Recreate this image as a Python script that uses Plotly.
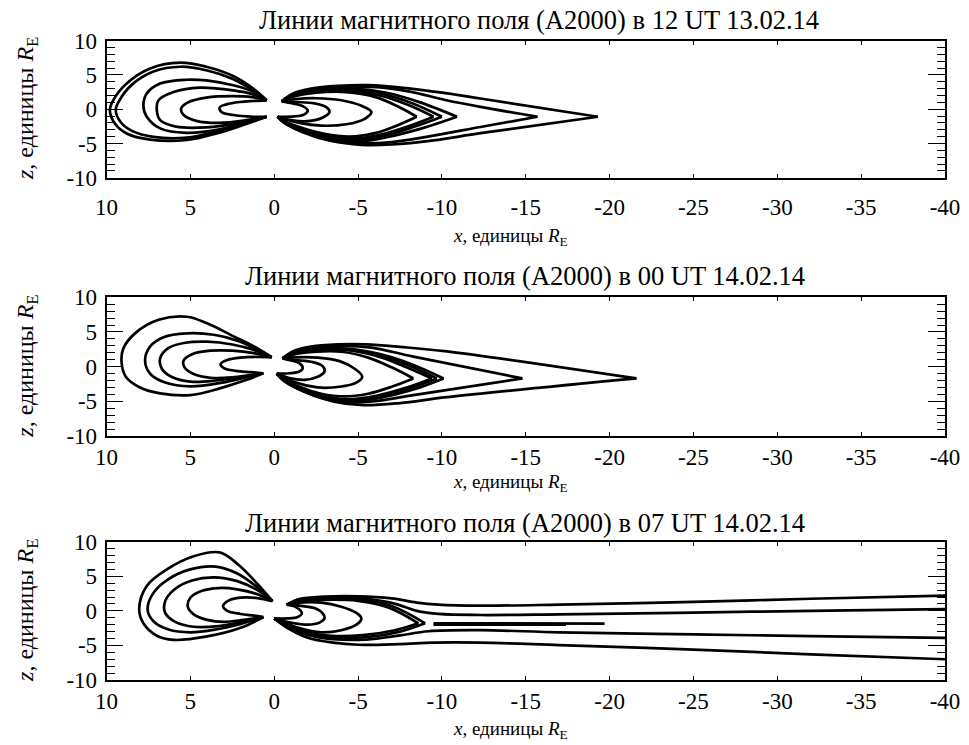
import plotly.graph_objects as go

# ---------------- DATA ----------------
X_TICKS = [10, 5, 0, -5, -10, -15, -20, -25, -30, -35, -40]
X_TICK_TEXT = ["10", "5", "0", "-5", "-10", "-15", "-20", "-25", "-30", "-35", "-40"]
Y_TICKS = [-10, -5, 0, 5, 10]
Y_TICK_TEXT = ["-10", "-5", "0", "5", "10"]

TITLES = [
    "Линии магнитного поля (A2000) в 12 UT 13.02.14",
    "Линии магнитного поля (A2000) в 00 UT 14.02.14",
    "Линии магнитного поля (A2000) в 07 UT 14.02.14",
]
X_LABEL = "<i>x</i>, единицы <i>R</i><sub>E</sub>"
Y_LABEL = "<i>z</i>, единицы <i>R</i><sub>E</sub>"

# Panel 1 (12 UT 13.02.14)
P1_DAY_X = [
    [0.45, 1.25, 2.45, 4.05, 5.6, 7.4, 8.8, 9.6, 9.8, 9.5, 8.8, 7.4, 5.2, 3.45, 1.85, 0.45],
    [0.45, 1.3, 2.5, 4.0, 5.6, 7.2, 8.5, 9.25, 9.45, 9.15, 8.45, 7.2, 5.2, 3.5, 1.9, 0.45],
    [0.45, 1.3, 2.45, 4.05, 5.25, 6.8, 7.6, 7.8, 7.6, 6.8, 5.25, 3.25, 1.65, 0.45],
    [0.45, 1.3, 2.45, 4.45, 6.0, 6.9, 7.0, 6.8, 5.85, 4.05, 2.05, 0.45],
    [0.45, 1.3, 2.45, 4.05, 5.1, 5.55, 5.4, 4.65, 3.25, 1.65, 0.45],
    [0.45, 1.25, 2.05, 2.85, 3.25, 3.15, 2.45, 1.25, 0.45],
]
P1_DAY_Z = [
    [1.3, 3.0, 4.85, 6.2, 6.8, 5.95, 3.75, 1.3, -0.15, -2.1, -3.55, -4.45, -4.5, -3.55, -2.3, -1.1],
    [1.3, 2.8, 4.45, 5.65, 6.2, 5.5, 3.55, 1.2, -0.15, -1.9, -3.2, -4.05, -4.15, -3.3, -2.15, -1.1],
    [1.3, 2.6, 3.5, 4.2, 4.3, 3.75, 2.3, 0.55, -1.1, -2.8, -3.45, -2.95, -1.85, -1.1],
    [1.3, 2.2, 2.75, 3.15, 2.5, 1.3, -0.15, -1.6, -2.55, -2.65, -2.0, -1.1],
    [1.3, 1.75, 1.9, 1.7, 1.05, 0.1, -0.85, -1.7, -2.0, -1.6, -1.1],
    [1.3, 1.2, 1.05, 0.7, 0.25, -0.4, -0.85, -1.1, -1.1],
]
P1_NIGHT_X = [
    [-0.45, -1.1, -1.7, -2.0, -1.8, -1.2, -0.2],
    [-0.45, -1.3, -2.4, -3.1, -3.3, -2.9, -2.0, -1.0, -0.2],
    [-0.45, -1.2, -2.5, -4.0, -5.2, -5.8, -5.4, -4.3, -2.8, -1.5, -0.2],
    [-0.45, -1.2, -2.5, -4.3, -6.0, -7.3, -8.5],
    [-8.5, -7.3, -6.0, -4.5, -3.0, -1.5, -0.6, -0.2],
    [-0.45, -1.2, -2.5, -4.4, -6.3, -8.0, -9.5],
    [-9.5, -8.0, -6.3, -4.7, -3.0, -1.5, -0.6, -0.2],
    [-0.45, -1.2, -2.5, -4.5, -6.5, -8.3, -10.0],
    [-10.0, -8.3, -6.5, -4.8, -3.0, -1.5, -0.6, -0.2],
    [-0.45, -1.2, -2.5, -4.6, -6.7, -8.7, -10.9],
    [-10.9, -8.8, -6.7, -5.0, -3.1, -1.5, -0.6, -0.2],
    [-0.45, -1.1, -2.3, -4.0, -5.8, -8.0, -10.2, -12.3, -15.7],
    [-15.7, -12.3, -9.5, -7.0, -5.0, -3.2, -1.6, -0.6, -0.2],
    [-0.45, -1.1, -2.2, -3.8, -5.6, -8.0, -10.2, -12.3, -19.3],
    [-19.3, -12.3, -9.5, -7.0, -5.2, -3.4, -1.7, -0.6, -0.2],
]
P1_NIGHT_Z = [
    [1.15, 0.85, 0.45, -0.2, -0.75, -1.05, -1.1],
    [1.15, 1.05, 0.85, 0.3, -0.4, -1.2, -1.75, -1.6, -1.1],
    [1.15, 1.45, 1.6, 1.3, 0.5, -0.4, -1.4, -2.2, -2.4, -2.0, -1.1],
    [1.15, 1.85, 2.4, 2.5, 1.8, 0.5, -1.1],
    [-1.1, -2.4, -3.5, -4.0, -3.6, -2.6, -1.7, -1.1],
    [1.15, 1.95, 2.55, 2.7, 2.0, 0.6, -1.1],
    [-1.1, -2.5, -3.75, -4.3, -3.9, -2.8, -1.8, -1.1],
    [1.15, 2.0, 2.65, 2.85, 2.2, 0.8, -1.1],
    [-1.1, -2.6, -3.9, -4.5, -4.1, -2.95, -1.85, -1.1],
    [1.15, 2.1, 2.75, 3.0, 2.4, 1.0, -1.1],
    [-1.1, -2.8, -4.1, -4.75, -4.3, -3.05, -1.9, -1.1],
    [1.15, 2.15, 2.85, 3.2, 3.25, 2.6, 1.35, 0.35, -1.1],
    [-1.1, -2.6, -3.85, -4.8, -4.95, -4.45, -3.2, -1.95, -1.1],
    [1.15, 2.25, 3.0, 3.4, 3.5, 3.05, 2.35, 1.56, -1.1],
    [-1.1, -3.5, -4.55, -5.15, -5.2, -4.65, -3.35, -2.0, -1.1],
]

# Panel 2 (00 UT 14.02.14)
P2_DAY_X = [
    [0.15, 1.2, 2.45, 4.0, 5.2, 6.9, 8.3, 9.0, 9.1, 8.85, 8.0, 6.8, 5.0, 3.2, 1.65, 0.65],
    [0.15, 1.2, 2.2, 3.6, 5.2, 6.6, 7.4, 7.7, 7.4, 6.5, 5.0, 3.1, 1.7, 0.65],
    [0.15, 1.2, 2.5, 4.0, 5.3, 6.3, 6.8, 6.7, 6.1, 5.0, 3.5, 2.0, 0.65],
    [0.15, 1.2, 2.5, 3.8, 4.9, 5.4, 5.35, 4.8, 3.8, 2.5, 1.5, 0.65],
    [0.15, 1.0, 2.0, 2.8, 3.2, 3.0, 2.3, 1.4, 0.65],
]
P2_DAY_Z = [
    [1.35, 2.9, 4.4, 6.25, 7.2, 6.75, 4.8, 2.6, 0.6, -1.45, -3.0, -3.85, -4.1, -3.1, -1.9, -0.95],
    [1.35, 2.7, 3.75, 4.6, 4.8, 4.25, 2.9, 0.9, -1.0, -2.3, -2.85, -2.3, -1.55, -0.95],
    [1.35, 2.4, 3.2, 3.6, 3.45, 2.7, 1.2, -0.3, -1.5, -2.15, -2.0, -1.5, -0.95],
    [1.35, 1.95, 2.3, 2.3, 1.8, 0.9, -0.1, -1.05, -1.6, -1.55, -1.25, -0.95],
    [1.35, 1.4, 1.3, 0.95, 0.35, -0.2, -0.6, -0.8, -0.95],
]
P2_NIGHT_X = [
    [-0.5, -1.0, -1.5, -1.7, -1.5, -0.9, -0.15],
    [-0.5, -1.3, -2.3, -2.9, -3.0, -2.6, -1.8, -0.9, -0.15],
    [-0.5, -1.3, -2.6, -3.9, -4.8, -5.25, -4.9, -3.9, -2.6, -1.3, -0.15],
    [-0.5, -1.2, -2.5, -4.0, -5.6, -7.0, -8.3],
    [-8.3, -7.0, -5.6, -4.2, -2.8, -1.5, -0.6, -0.15],
    [-0.5, -1.2, -2.5, -4.2, -6.0, -7.7, -9.4],
    [-9.4, -7.8, -6.1, -4.4, -2.9, -1.5, -0.6, -0.15],
    [-0.5, -1.2, -2.5, -4.3, -6.2, -8.0, -9.7],
    [-9.7, -8.0, -6.2, -4.5, -2.9, -1.5, -0.6, -0.15],
    [-0.5, -1.2, -2.5, -4.3, -6.3, -8.3, -10.1],
    [-10.1, -8.3, -6.3, -4.5, -2.9, -1.5, -0.6, -0.15],
    [-0.5, -1.1, -2.3, -4.0, -5.8, -8.3, -14.8],
    [-14.8, -8.3, -6.3, -4.6, -3.1, -1.6, -0.6, -0.15],
    [-0.5, -1.1, -2.2, -3.8, -5.5, -7.5, -10.3, -21.6],
    [-21.6, -10.3, -7.5, -5.3, -3.5, -1.8, -0.6, -0.15],
]
P2_NIGHT_Z = [
    [1.2, 0.9, 0.5, -0.2, -0.7, -0.95, -1.0],
    [1.2, 0.95, 0.65, 0.05, -0.7, -1.45, -1.9, -1.65, -1.0],
    [1.2, 1.35, 1.3, 0.8, -0.3, -1.45, -2.3, -2.9, -3.0, -2.3, -1.0],
    [1.2, 1.75, 2.15, 2.15, 1.3, -0.1, -1.7],
    [-1.7, -2.9, -3.9, -4.3, -3.9, -2.9, -1.8, -1.0],
    [1.2, 1.9, 2.35, 2.4, 1.6, 0.1, -1.7],
    [-1.7, -3.1, -4.2, -4.7, -4.25, -3.1, -1.9, -1.0],
    [1.2, 1.95, 2.45, 2.5, 1.7, 0.2, -1.7],
    [-1.7, -3.2, -4.35, -4.85, -4.35, -3.15, -1.95, -1.0],
    [1.2, 2.0, 2.55, 2.6, 1.8, 0.25, -1.7],
    [-1.7, -3.3, -4.5, -5.0, -4.5, -3.25, -2.0, -1.0],
    [1.2, 2.05, 2.7, 3.0, 2.75, 1.45, -1.7],
    [-1.7, -4.1, -4.9, -5.15, -4.7, -3.4, -2.05, -1.0],
    [1.2, 2.2, 2.9, 3.2, 3.2, 2.85, 2.2, -1.7],
    [-1.7, -4.4, -5.25, -5.55, -5.0, -3.6, -2.1, -1.0],
]

# Panel 3 (07 UT 14.02.14)
P3_DAY_X = [
    [0.1, 1.0, 2.1, 3.25, 4.8, 6.4, 7.6, 8.05, 7.8, 7.0, 6.0, 4.0, 2.0, 0.65],
    [0.1, 1.0, 2.2, 3.5, 5.0, 6.3, 7.2, 7.55, 7.2, 6.3, 5.0, 3.5, 2.0, 0.65],
    [0.1, 1.0, 2.2, 3.6, 4.9, 5.9, 6.5, 6.5, 5.9, 4.8, 3.3, 1.9, 0.65],
    [0.1, 1.0, 2.2, 3.3, 4.3, 5.0, 5.15, 4.8, 4.0, 3.0, 1.8, 0.65],
    [0.1, 1.0, 2.0, 2.75, 3.05, 2.8, 2.0, 1.2, 0.65],
]
P3_DAY_Z = [
    [1.4, 3.9, 6.6, 8.45, 7.9, 6.0, 3.6, 0.3, -1.8, -3.6, -4.2, -3.7, -2.45, -0.9],
    [1.4, 3.4, 5.4, 6.4, 6.0, 4.6, 2.6, 0.2, -1.5, -2.7, -3.1, -2.7, -1.9, -0.9],
    [1.4, 3.0, 4.3, 4.85, 4.4, 3.2, 1.4, -0.3, -1.6, -2.3, -2.2, -1.6, -0.9],
    [1.4, 2.4, 3.1, 3.3, 2.9, 1.9, 0.6, -0.5, -1.3, -1.6, -1.3, -0.9],
    [1.4, 1.85, 1.9, 1.45, 0.7, 0.0, -0.45, -0.7, -0.9],
]
P3_NIGHT_X = [
    [-0.75, -1.3, -1.65, -1.4, -0.8, 0.0],
    [-0.75, -1.5, -2.4, -2.9, -3.0, -2.7, -2.0, -1.0, 0.0],
    [-0.75, -1.5, -2.8, -4.0, -4.9, -5.2, -4.9, -4.0, -2.8, -1.5, -0.5, 0.0],
    [-0.75, -1.5, -3.0, -5.0, -7.0, -9.0],
    [-9.0, -7.5, -5.5, -3.5, -2.0, -0.8, 0.0],
    [-0.75, -1.5, -3.0, -5.0, -6.8, -8.6],
    [-8.6, -7.2, -5.3, -3.4, -2.0, -0.8, 0.0],
    [-9.5, -19.7],
    [-9.5, -17.4],
    [-0.75, -1.5, -3.0, -5.0, -7.0, -8.5, -9.8, -12.3, -17, -25, -32, -40],
    [-0.75, -1.5, -3.0, -5.0, -7.0, -8.5, -9.8, -12.3, -17, -25, -32, -40],
    [0.0, -0.8, -2.0, -3.5, -5.5, -7.5, -9.2, -12.3, -17, -25, -32, -40],
    [0.0, -0.8, -2.0, -3.5, -5.0, -7.5, -9.5, -12.3, -17, -25, -32, -40],
]
P3_NIGHT_Z = [
    [0.9, 0.55, -0.35, -0.9, -1.1, -1.1],
    [0.9, 0.75, 0.4, -0.4, -1.1, -1.7, -2.0, -1.7, -1.1],
    [0.9, 1.2, 1.2, 0.6, -0.3, -1.1, -2.0, -2.8, -3.1, -2.5, -1.6, -1.1],
    [0.9, 1.5, 1.75, 1.65, 0.7, -1.8],
    [-1.8, -3.0, -3.8, -3.9, -3.3, -2.1, -1.1],
    [0.9, 1.4, 1.6, 1.45, 0.5, -1.8],
    [-1.8, -2.8, -3.5, -3.6, -3.1, -2.0, -1.1],
    [-1.8, -1.85],
    [-2.0, -2.0],
    [0.9, 1.7, 2.05, 2.1, 1.8, 1.2, 0.9, 0.75, 0.9, 1.3, 1.75, 2.2],
    [0.9, 1.55, 1.9, 1.85, 1.15, 0.0, -0.45, -0.6, -0.5, -0.25, 0.0, 0.25],
    [-1.1, -2.3, -3.5, -4.1, -4.15, -3.55, -2.95, -2.8, -3.1, -3.4, -3.65, -3.9],
    [-1.1, -2.5, -3.9, -4.6, -4.9, -4.8, -4.6, -4.6, -4.95, -5.6, -6.3, -7.0],
]

# ---------------- FIGURE ----------------
W, H = 969, 745
FONT = "'Liberation Serif', 'Times New Roman', 'DejaVu Serif', serif"
LX0, LX1 = 106.5, 945.0
PANELS_PX = [(40.7, 177.7), (297.3, 436.0), (541.7, 680.0)]  # top, bottom in px


def px2x(px):
    return px / W


def px2y(py):
    return 1 - py / H


fig = go.Figure()

groups = [
    (P1_DAY_X + P1_NIGHT_X, P1_DAY_Z + P1_NIGHT_Z),
    (P2_DAY_X + P2_NIGHT_X, P2_DAY_Z + P2_NIGHT_Z),
    (P3_DAY_X + P3_NIGHT_X, P3_DAY_Z + P3_NIGHT_Z),
]
for i, (xs_list, zs_list) in enumerate(groups):
    suffix = "" if i == 0 else str(i + 1)
    for xs, zs in zip(xs_list, zs_list):
        fig.add_trace(go.Scatter(
            x=xs, y=zs, mode="lines",
            line=dict(color="black", width=2.7, shape="spline", smoothing=1.0),
            xaxis="x" + suffix, yaxis="y" + suffix,
            showlegend=False, hoverinfo="skip",
        ))

tickfont = dict(family=FONT, size=23, color="black")
x_standoffs = [8, 0, 0]

layout = dict(
    template="none",
    width=W, height=H,
    margin=dict(l=0, r=0, t=0, b=0, autoexpand=False),
    paper_bgcolor="white", plot_bgcolor="white",
    font=dict(family=FONT, color="black"),
    showlegend=False,
)
annotations = []
for i, (top, bot) in enumerate(PANELS_PX):
    suffix = "" if i == 0 else str(i + 1)
    layout["xaxis" + suffix] = dict(
        domain=[px2x(LX0), px2x(LX1)], anchor="y" + suffix, automargin=False,
        range=[10, -40], tickmode="array", tickvals=X_TICKS, ticktext=X_TICK_TEXT,
        ticks="inside", ticklen=4, tickwidth=1.3, tickcolor="black",
        showline=True, linecolor="black", linewidth=1.6, mirror="ticks",
        showgrid=False, zeroline=False, tickfont=tickfont,
        ticklabelstandoff=x_standoffs[i],
    )
    layout["yaxis" + suffix] = dict(
        domain=[px2y(bot), px2y(top)], anchor="x" + suffix, automargin=False,
        range=[-10, 10], tickmode="array", tickvals=Y_TICKS, ticktext=Y_TICK_TEXT,
        ticks="inside", ticklen=17, tickwidth=1.3, tickcolor="black",
        minor=dict(dtick=1, tick0=0, ticks="inside", ticklen=8.5, tickwidth=1.2,
                   tickcolor="black", showgrid=False),
        showline=True, linecolor="black", linewidth=1.6, mirror="ticks",
        showgrid=False, zeroline=False, tickfont=tickfont,
        ticklabelstandoff=3,
    )

title_pos = [(539, 20), (525, 275.5), (525, 522.5)]
xlab_pos = [(510, 237), (510, 483), (510, 730)]
ylab_pos = [(27, 109), (27, 366.7), (27, 610.9)]
for i in range(3):
    annotations.append(dict(
        text=TITLES[i], x=px2x(title_pos[i][0]), y=px2y(title_pos[i][1]),
        xref="paper", yref="paper", xanchor="center", yanchor="middle",
        showarrow=False, font=dict(family=FONT, size=26.5, color="black"),
    ))
    annotations.append(dict(
        text=X_LABEL, x=px2x(xlab_pos[i][0]), y=px2y(xlab_pos[i][1]),
        xref="paper", yref="paper", xanchor="center", yanchor="middle",
        showarrow=False, font=dict(family=FONT, size=19, color="black"),
    ))
    annotations.append(dict(
        text=Y_LABEL, x=px2x(ylab_pos[i][0]), y=px2y(ylab_pos[i][1]),
        xref="paper", yref="paper", xanchor="center", yanchor="middle",
        textangle=-90,
        showarrow=False, font=dict(family=FONT, size=24, color="black"),
    ))
layout["annotations"] = annotations

fig.update_layout(**layout)
fig.write_html(
    "out.html",
    config={"displayModeBar": False},
    post_script="document.body.style.margin='0px';",
)
